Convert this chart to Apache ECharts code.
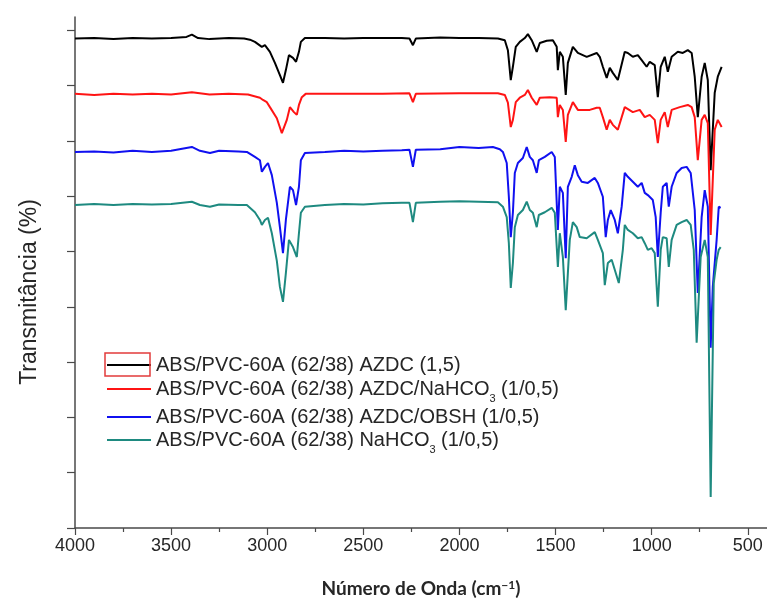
<!DOCTYPE html>
<html>
<head>
<meta charset="utf-8">
<script src="https://cdn.jsdelivr.net/npm/echarts@6/dist/echarts.min.js"></script>
<style>
  html, body { margin: 0; padding: 0; background: #fff; }
  #chart { width: 767px; height: 603px; }
</style>
</head>
<body>
<div id="chart"></div>
<script>
// FTIR spectra, stacked with an offset: [wavenumber (cm-1), transmittance (a.u.)]
const seriesNames = [
  'ABS/PVC-60A (62/38) AZDC (1,5)',
  'ABS/PVC-60A (62/38) AZDC/NaHCO3 (1/0,5)',
  'ABS/PVC-60A (62/38) AZDC/OBSH (1/0,5)',
  'ABS/PVC-60A (62/38) NaHCO3 (1/0,5)'
];
const seriesColors = ['#000000', '#ff1414', '#1010f0', '#1e8a80'];

const azdc = [
  [4000,8.85],[3900,8.86],[3800,8.84],[3700,8.86],[3600,8.85],[3500,8.86],[3420,8.88],[3392,8.92],[3360,8.86],
  [3300,8.84],[3200,8.86],[3120,8.85],[3090,8.83],[3064,8.79],[3028,8.70],[3012,8.73],[2986,8.61],[2960,8.41],
  [2934,8.19],[2918,8.05],[2903,8.28],[2887,8.55],[2866,8.50],[2850,8.43],[2835,8.61],[2825,8.79],[2804,8.86],
  [2700,8.86],[2600,8.85],[2500,8.86],[2400,8.86],[2300,8.86],[2260,8.85],[2242,8.73],[2227,8.85],[2100,8.87],
  [2000,8.86],[1900,8.86],[1800,8.85],[1764,8.82],[1748,8.64],[1733,8.10],[1722,8.34],[1707,8.70],[1686,8.79],
  [1660,8.86],[1644,8.93],[1624,8.82],[1598,8.61],[1582,8.77],[1546,8.81],[1514,8.82],[1494,8.70],[1488,8.28],
  [1478,8.61],[1462,8.52],[1447,7.83],[1436,8.41],[1410,8.70],[1384,8.59],[1338,8.52],[1286,8.59],[1270,8.52],
  [1254,8.34],[1234,8.14],[1218,8.32],[1202,8.23],[1176,8.10],[1140,8.61],[1124,8.59],[1098,8.52],[1072,8.55],
  [1052,8.46],[1026,8.34],[1010,8.43],[984,8.37],[968,7.79],[953,8.34],[932,8.52],[916,8.25],[896,8.52],
  [864,8.61],[838,8.59],[812,8.64],[792,8.59],[776,8.16],[760,7.43],[740,8.16],[724,8.41],[708,8.10],
  [693,6.47],[672,7.87],[656,8.16],[636,8.34]
];

const azdcNahco3 = [
  [4000,7.85],[3900,7.83],[3800,7.85],[3700,7.84],[3600,7.85],[3500,7.84],[3392,7.88],[3300,7.84],[3200,7.85],
  [3100,7.84],[3038,7.78],[3022,7.74],[3002,7.70],[2986,7.61],[2950,7.41],[2924,7.14],[2898,7.38],[2882,7.61],
  [2861,7.52],[2846,7.47],[2835,7.65],[2820,7.79],[2800,7.85],[2600,7.85],[2400,7.85],[2260,7.86],[2242,7.70],
  [2227,7.85],[2000,7.86],[1800,7.86],[1764,7.83],[1748,7.69],[1733,7.25],[1722,7.38],[1707,7.70],[1686,7.78],
  [1660,7.83],[1644,7.92],[1624,7.78],[1598,7.65],[1582,7.78],[1530,7.79],[1494,7.78],[1488,7.43],[1478,7.65],
  [1462,7.56],[1447,6.98],[1436,7.47],[1410,7.70],[1384,7.56],[1322,7.56],[1286,7.60],[1270,7.60],[1254,7.43],
  [1234,7.20],[1218,7.38],[1202,7.29],[1176,7.20],[1140,7.61],[1098,7.52],[1062,7.56],[1036,7.43],[1010,7.47],
  [984,7.38],[968,6.96],[953,7.38],[932,7.52],[916,7.25],[896,7.56],[854,7.61],[812,7.65],[792,7.61],
  [776,7.43],[760,6.65],[740,7.38],[724,7.47],[708,7.32],[693,5.30],[672,7.20],[656,7.38],[636,7.25]
];

const azdcObsh = [
  [4000,6.80],[3900,6.81],[3800,6.79],[3700,6.82],[3600,6.80],[3500,6.82],[3392,6.89],[3350,6.82],[3298,6.78],
  [3250,6.82],[3150,6.81],[3106,6.80],[3064,6.71],[3038,6.65],[3028,6.44],[3012,6.53],[2996,6.60],[2976,6.38],
  [2950,5.88],[2934,5.44],[2918,4.97],[2903,5.57],[2882,6.17],[2866,6.11],[2850,5.84],[2835,6.17],[2825,6.65],
  [2804,6.78],[2700,6.80],[2600,6.82],[2500,6.81],[2400,6.82],[2300,6.83],[2260,6.84],[2242,6.53],[2227,6.84],
  [2100,6.85],[2000,6.89],[1900,6.87],[1826,6.89],[1790,6.85],[1774,6.80],[1754,6.60],[1743,5.99],[1733,5.26],
  [1722,5.70],[1712,6.42],[1696,6.60],[1670,6.69],[1650,6.89],[1634,6.71],[1618,6.65],[1598,6.42],[1587,6.65],
  [1556,6.71],[1520,6.80],[1504,6.71],[1488,5.39],[1478,6.17],[1462,6.06],[1447,4.88],[1436,6.17],[1416,6.35],
  [1400,6.56],[1384,6.38],[1364,6.26],[1332,6.24],[1296,6.33],[1280,6.24],[1254,5.99],[1239,5.26],[1228,5.57],
  [1213,5.75],[1192,5.57],[1176,5.33],[1156,5.81],[1140,6.42],[1124,6.35],[1098,6.26],[1072,6.17],[1052,6.24],
  [1036,6.06],[1020,6.02],[994,5.93],[979,5.62],[968,4.90],[953,5.70],[942,6.17],[922,6.24],[911,5.81],
  [896,6.17],[870,6.42],[844,6.51],[818,6.53],[797,6.42],[776,5.75],[760,4.25],[740,5.62],[724,6.11],
  [708,5.81],[693,3.26],[682,4.36],[662,5.21],[651,5.81],[641,5.79]
];

const nahco3 = [
  [4000,5.84],[3900,5.86],[3800,5.84],[3700,5.86],[3600,5.85],[3500,5.86],[3392,5.90],[3350,5.84],[3298,5.81],
  [3250,5.85],[3150,5.84],[3106,5.84],[3064,5.71],[3038,5.57],[3028,5.48],[3012,5.57],[2996,5.61],[2976,5.33],
  [2950,4.83],[2934,4.36],[2918,4.09],[2903,4.61],[2887,5.21],[2866,5.08],[2846,4.90],[2835,5.33],[2825,5.70],
  [2804,5.81],[2700,5.84],[2600,5.86],[2500,5.85],[2400,5.87],[2300,5.88],[2260,5.88],[2242,5.53],[2227,5.88],
  [2100,5.90],[2000,5.91],[1900,5.90],[1800,5.89],[1774,5.81],[1754,5.62],[1743,5.15],[1733,4.34],[1722,4.79],
  [1712,5.44],[1696,5.66],[1670,5.75],[1650,5.90],[1634,5.75],[1618,5.70],[1598,5.44],[1587,5.66],[1556,5.71],
  [1520,5.79],[1504,5.70],[1488,4.72],[1478,5.33],[1462,4.90],[1447,3.94],[1426,5.21],[1410,5.53],[1390,5.44],
  [1374,5.26],[1338,5.24],[1296,5.35],[1280,5.21],[1254,4.97],[1244,4.39],[1228,4.79],[1208,4.85],[1192,4.67],
  [1171,4.43],[1150,5.03],[1140,5.48],[1124,5.39],[1098,5.33],[1072,5.24],[1052,5.26],[1036,5.15],[1020,5.03],
  [1000,5.06],[984,4.97],[968,4.00],[953,5.03],[942,5.26],[922,5.24],[911,4.72],[896,5.21],[870,5.48],
  [844,5.53],[818,5.57],[797,5.48],[781,5.03],[766,3.35],[745,4.90],[724,5.21],[708,4.90],[693,0.56],
  [677,4.43],[662,4.85],[651,5.03],[641,5.08]
];

const spectra = [azdc, azdcNahco3, azdcObsh, nahco3];

// Axis ticks
const xMajorTicks = [4000, 3500, 3000, 2500, 2000, 1500, 1000, 500];
const xMinorTicks = [3750, 3250, 2750, 2250, 1750, 1250, 750];
const yTicks = [0, 1, 2, 3, 4, 5, 6, 7, 8, 9];

const legendRowTops = [355, 379, 407, 430];

const chart = echarts.init(document.getElementById('chart'), null, { renderer: 'canvas' });

const axisColor = '#4a4a4a';
const textColor = '#262626';

// One legend block per row so the uneven row spacing can be kept
const legends = seriesNames.map((name, i) => ({
  data: [name],
  left: 106,
  top: legendRowTops[i],
  orient: 'vertical',
  itemWidth: 44,
  itemHeight: 20,
  itemGap: 0,
  padding: 0,
  selectedMode: false,
  itemStyle: { opacity: 0 },
  lineStyle: { width: 2 },
  formatter: n => n.replace('NaHCO3', 'NaHCO{sub|3}'),
  textStyle: {
    fontFamily: 'Liberation Sans, Arial, sans-serif',
    fontSize: 20,
    color: textColor,
    lineHeight: 20,
    rich: {
      sub: { fontSize: 11, lineHeight: 20, verticalAlign: 'bottom', padding: [0, 0, -5, 0], color: textColor }
    }
  }
}));

chart.setOption({
  animation: false,
  backgroundColor: '#ffffff',
  grid: { left: 75, right: 0, top: 17, bottom: 75, containLabel: false },
  legend: legends,
  xAxis: [
    {
      type: 'value', inverse: true, min: 400, max: 4000,
      axisLine: { show: true, onZero: false, lineStyle: { color: axisColor, width: 1.5 } },
      axisTick: { show: true, length: 7, customValues: xMajorTicks, lineStyle: { color: axisColor, width: 1.2 } },
      axisLabel: {
        show: true, customValues: xMajorTicks, margin: 9,
        formatter: v => String(v),
        fontFamily: 'Liberation Sans, Arial, sans-serif', fontSize: 18, color: textColor
      },
      splitLine: { show: false }
    },
    {
      type: 'value', inverse: true, min: 400, max: 4000, position: 'bottom',
      axisLine: { show: false, onZero: false },
      axisTick: { show: true, length: 4, customValues: xMinorTicks, lineStyle: { color: axisColor, width: 1.2 } },
      axisLabel: { show: false },
      splitLine: { show: false }
    }
  ],
  yAxis: {
    type: 'value', min: 0, max: 9.24,
    axisLine: { show: true, onZero: false, lineStyle: { color: axisColor, width: 1.5 } },
    axisTick: { show: true, length: 8, customValues: yTicks, lineStyle: { color: axisColor, width: 1.2 } },
    axisLabel: { show: false },
    splitLine: { show: false }
  },
  series: spectra.map((pts, i) => ({
    name: seriesNames[i],
    type: 'line',
    data: pts,
    xAxisIndex: 0,
    showSymbol: false,
    symbol: 'none',
    color: seriesColors[i],
    lineStyle: { color: seriesColors[i], width: 2 },
    emphasis: { disabled: true }
  })),
  graphic: [
    {
      type: 'rect',
      shape: { x: 105, y: 353, width: 45, height: 23 },
      style: { fill: 'none', stroke: '#e23b3b', lineWidth: 1.5 },
      z: 100
    },
    {
      type: 'text',
      x: 30, y: 292,
      rotation: Math.PI / 2,
      style: {
        text: 'Transmitância (%)',
        fontFamily: 'Liberation Sans, Arial, sans-serif',
        fontSize: 23,
        fill: textColor,
        align: 'center',
        verticalAlign: 'middle'
      }
    },
    {
      type: 'text',
      x: 421, y: 589,
      style: {
        text: 'Número de Onda (cm{sup|−1})',
        fontFamily: 'Lato, Open Sans, sans-serif',
        fontWeight: 'bold',
        fontSize: 19,
        fill: textColor,
        align: 'center',
        verticalAlign: 'middle',
        rich: {
          sup: { fontFamily: 'Lato, Open Sans, sans-serif', fontWeight: 'bold', fontSize: 12, verticalAlign: 'top', padding: [0, 0, 8, 0], fill: textColor }
        }
      }
    }
  ]
});
</script>
</body>
</html>
